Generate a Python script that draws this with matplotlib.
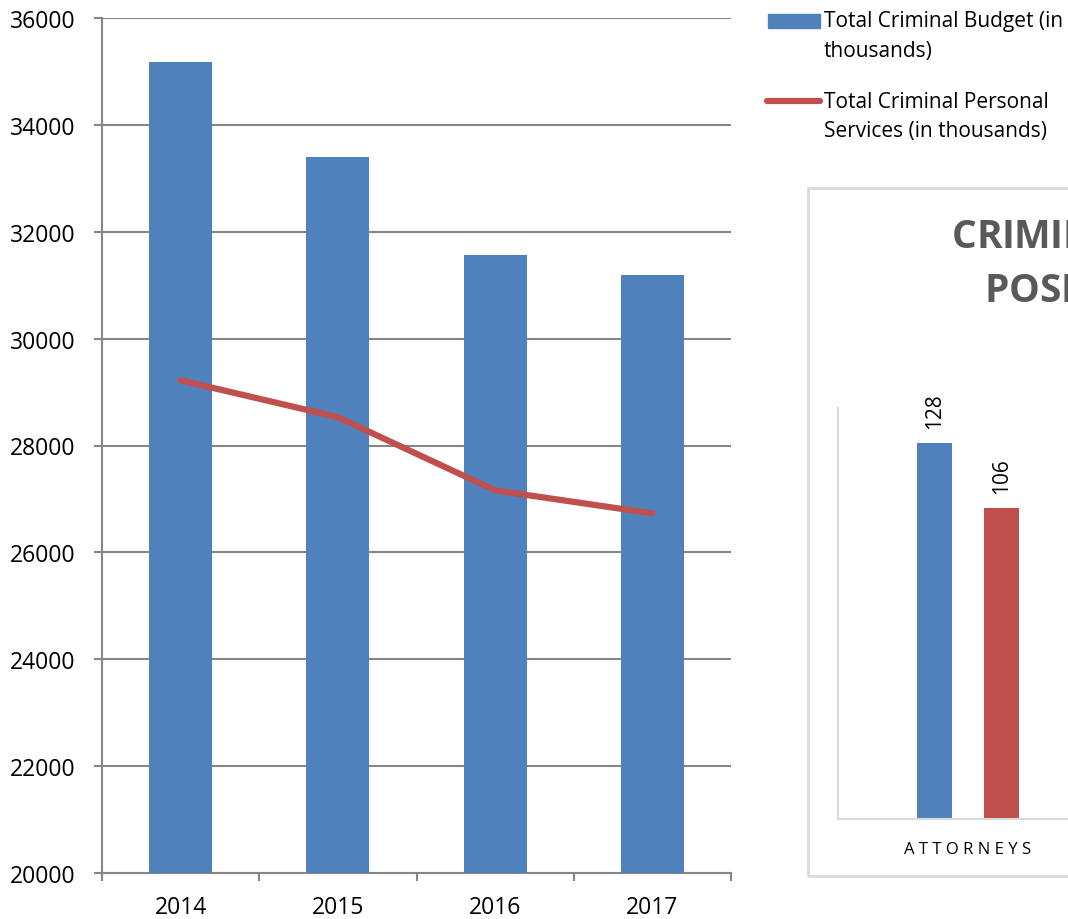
import matplotlib
matplotlib.use("Agg")
import matplotlib.pyplot as plt
from matplotlib.patches import Rectangle
from matplotlib.lines import Line2D
import numpy as np

years = ["2014", "2015", "2016", "2017"]
budget = [35170, 33390, 31560, 31190]
personal_services = [29220, 28530, 27160, 26730]

pos_categories = ["ATTORNEYS"]
pos_blue = [128]
pos_red = [106]

legend_labels = [
    ["Total Criminal Budget (in", "thousands)"],
    ["Total Criminal Personal", "Services (in thousands)"],
]
title_lines = ["CRIMINAL", "POSITIONS"]

BLUE = "#4F81BD"
RED = "#C0504D"
GRID = "#868686"
LIGHT = "#D9D9D9"

plt.rcParams["font.family"] = ["Open Sans", "DejaVu Sans"]

fig = plt.figure(figsize=(10.68, 9.2), dpi=100)
W, H = 1068, 920


def px_axes(x0, y0, x1, y1):
    # pixel box (top-left origin) -> figure fraction axes
    return fig.add_axes([x0 / W, 1 - y1 / H, (x1 - x0) / W, (y1 - y0) / H])


def spaced_text(x0, y, s, gap, **kw):
    # draw a word letter by letter with extra tracking (pixels);
    # the chart is cropped at the right edge, so stop once off the figure
    renderer = fig.canvas.get_renderer()
    xp = x0
    for ch in s:
        if xp >= W:
            break
        t = fig.text(xp / W, 1 - y / H, ch, ha="left", va="center", **kw)
        xp += t.get_window_extent(renderer).width + gap


# ---- main chart ----
ax = px_axes(102, 19, 731, 874)
x = np.arange(len(years))
bars = ax.bar(x, budget, width=0.4, color=BLUE, zorder=3)
line, = ax.plot(x, personal_services, color=RED, linewidth=4.5, zorder=4,
                solid_capstyle="round")

ax.set_xlim(-0.5, len(years) - 0.5)
ax.set_ylim(20000, 36000)
ax.set_yticks(np.arange(20000, 36001, 2000))
ax.yaxis.grid(True, color=GRID, linewidth=1.5, zorder=0)
ax.set_axisbelow(True)
ax.set_xticks(x)
ax.set_xticklabels(years)
ax.set_xticks(np.arange(-0.5, len(years)), minor=True)
ax.tick_params(axis="x", which="major", length=0, pad=16, labelsize=16.5)
ax.tick_params(axis="x", which="minor", length=6, width=1.5, color=GRID, direction="out")
ax.tick_params(axis="y", length=6, width=1.5, color=GRID, pad=13, labelsize=16.5)
for s in ["top", "right"]:
    ax.spines[s].set_visible(False)
for s in ["left", "bottom"]:
    ax.spines[s].set_color(GRID)
    ax.spines[s].set_linewidth(1.5)

# ---- legend (drawn by hand to match the two-line layout) ----
fig.patches.append(Rectangle((768 / W, 1 - 29 / H), 52 / W, 14 / H,
                             transform=fig.transFigure, color=BLUE))
fig.lines.append(Line2D([767 / W, 820 / W], [1 - 102 / H, 1 - 102 / H],
                        transform=fig.transFigure, color=RED, linewidth=4.5,
                        solid_capstyle="round"))
for (l1, l2), y in zip(legend_labels, [22, 102]):
    fig.text(824 / W, 1 - y / H, l1, fontsize=15, ha="left", va="center")
    fig.text(824 / W, 1 - (y + 29) / H, l2, fontsize=15, ha="left", va="center")

# ---- cropped second chart on the right ----
fig.patches.append(Rectangle((808 / W, 1 - 877 / H), 0.5, (877 - 189) / H,
                             transform=fig.transFigure, fill=False,
                             edgecolor=LIGHT, linewidth=2))
spaced_text(952, 238, title_lines[0], -0.5, fontsize=28, fontweight="bold", color="#595959")
spaced_text(985, 291, title_lines[1], -0.5, fontsize=28, fontweight="bold", color="#595959")

ax2 = px_axes(838, 409, 1098, 820)
pos_x = np.arange(len(pos_categories))
b1 = ax2.bar(pos_x - 0.129, pos_blue, width=0.135, color=BLUE)
b2 = ax2.bar(pos_x + 0.129, pos_red, width=0.135, color=RED)
ax2.bar_label(b1, rotation=90, padding=11, fontsize=15)
ax2.bar_label(b2, rotation=90, padding=11, fontsize=15)
ax2.set_xlim(-0.5, 0.5)
ax2.set_ylim(0, 140)
ax2.set_yticks([])
ax2.set_xticks(pos_x)
ax2.set_xticklabels([" ".join(c) for c in pos_categories], fontsize=12)
ax2.tick_params(axis="x", length=0, pad=16)
for s in ["top", "right"]:
    ax2.spines[s].set_visible(False)
for s in ["left", "bottom"]:
    ax2.spines[s].set_color(LIGHT)
    ax2.spines[s].set_linewidth(1.5)

fig.savefig("out.png", dpi=100)
